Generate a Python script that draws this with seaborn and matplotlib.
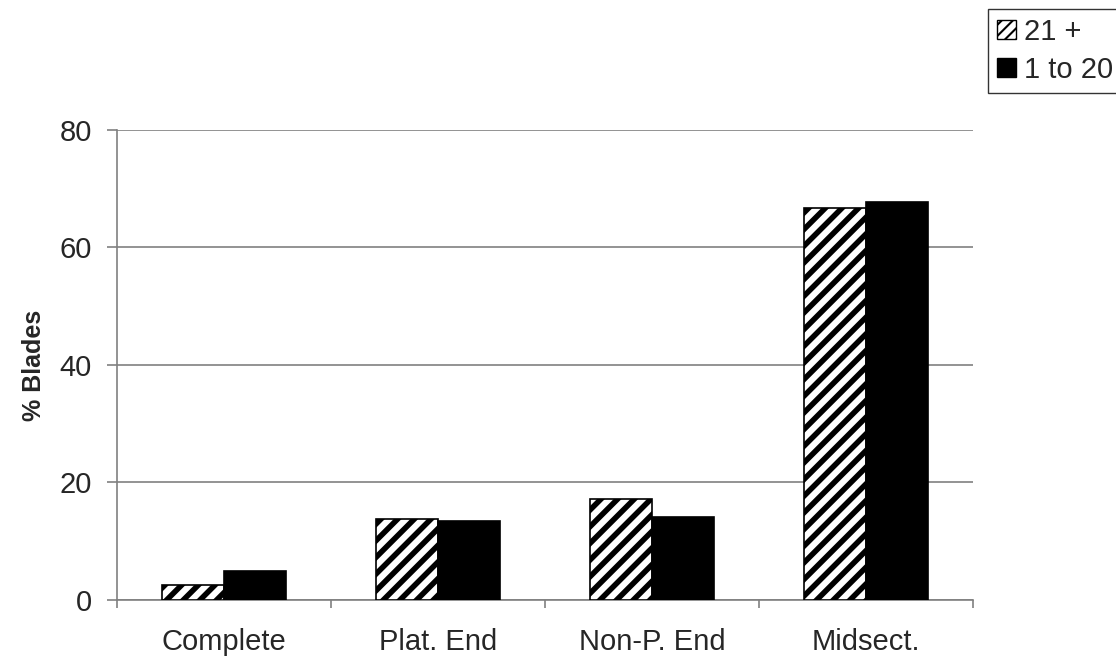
import seaborn as sns
import pandas as pd
import matplotlib.pyplot as plt
import numpy as np
from matplotlib.patches import Patch

categories = ["Complete", "Plat. End", "Non-P. End", "Midsect."]
series = ["21 +", "1 to 20"]
vals_21plus = [2.5, 13.7, 17.2, 66.8]
vals_1to20 = [4.9, 13.5, 14.1, 67.7]

sns.set_style("white")
plt.rcParams['font.family'] = ['Liberation Sans', 'DejaVu Sans']
plt.rcParams['hatch.linewidth'] = 4.0

df = pd.DataFrame({
    "Category": categories * 2,
    "Series": [series[0]] * 4 + [series[1]] * 4,
    "Value": vals_21plus + vals_1to20,
})

fig = plt.figure(figsize=(11.16, 6.62), dpi=100)
ax = fig.add_axes([0.1048, 0.0937, 0.767, 0.71])

sns.barplot(data=df, x="Category", y="Value", hue="Series", order=categories,
            hue_order=series, palette=["white", "black"], width=0.58,
            edgecolor="black", linewidth=1.2, ax=ax, legend=False, zorder=3)

# hatch the first series
for patch in ax.patches[:4]:
    patch.set_hatch("//")
    patch.set_edgecolor("black")

ax.set_xlim(-0.5, 3.5)
ax.set_ylim(0, 80)
ax.set_yticks([0, 20, 40, 60, 80])
ax.yaxis.grid(True, color="#808080", linewidth=1.2, zorder=0)
ax.set_axisbelow(True)
ax.set_xlabel("")
ax.set_ylabel("% Blades", fontsize=18, fontweight="bold", labelpad=10)

for s in ["top", "right"]:
    ax.spines[s].set_visible(False)
for s in ["left", "bottom"]:
    ax.spines[s].set_color("#808080")
    ax.spines[s].set_linewidth(1.2)

ax.tick_params(axis="y", which="major", length=7, width=1.2, color="#808080",
               labelsize=21, direction="out", left=True, pad=11)
ax.tick_params(axis="x", which="major", length=0, labelsize=21, pad=20)
ax.set_xticks(np.arange(-0.5, 4, 1), minor=True)
ax.tick_params(axis="x", which="minor", length=6, width=1.2, color="#808080",
               direction="out", bottom=True)

with plt.rc_context({'hatch.linewidth': 1.5}):
    handles = [Patch(facecolor="white", edgecolor="black", hatch="///", linewidth=1),
               Patch(facecolor="black", edgecolor="black", linewidth=1)]
    leg = fig.legend(handles, series, loc="upper left", bbox_to_anchor=(988 / 1116, 1 - 9 / 662),
                     frameon=True, fancybox=False, edgecolor="black", fontsize=21,
                     handlelength=0.65, handleheight=0.65, handletextpad=0.3,
                     borderpad=0.3, labelspacing=0.35, borderaxespad=0.0)
leg.get_frame().set_linewidth(1.0)

fig.savefig("out.png", dpi=100)
